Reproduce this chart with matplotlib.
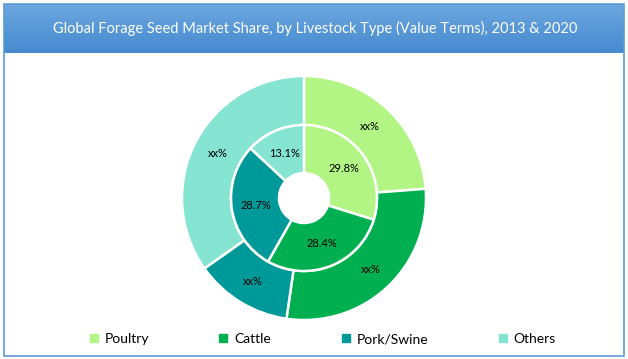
import matplotlib.pyplot as plt
import numpy as np
from matplotlib.patches import Rectangle
from matplotlib.lines import Line2D

plt.rcParams['font.family'] = ['Lato', 'DejaVu Sans']

# data
categories = ['Poultry', 'Cattle', 'Pork/Swine', 'Others']
share_2013 = [29.8, 28.4, 28.7, 13.1]          # inner ring
share_2020 = [23.8, 28.5, 12.9, 34.8]          # outer ring (values hidden as xx%)
inner_labels = ['29.8%', '28.4%', '28.7%', '13.1%']
outer_labels = ['xx%', 'xx%', 'xx%', 'xx%']
colors = ['#B2F584', '#00B050', '#009999', '#86E4D2']

W, H = 628, 359
fig = plt.figure(figsize=(W / 100, H / 100), dpi=100)
ax = fig.add_axes([0, 0, 1, 1])
ax.set_xlim(0, W)
ax.set_ylim(0, H)
ax.axis('off')

# title bar with vertical gradient
grad = np.linspace(0, 1, 64).reshape(-1, 1)
top = np.array([0x6C, 0xA7, 0xE0]) / 255
bot = np.array([0x46, 0x8A, 0xCF]) / 255
img = top + (bot - top) * grad[:, :, None]
ax.imshow(img, extent=[4, 624, H - 53, H - 4], aspect='auto', zorder=1)
ax.text(315, H - 28, 'Global Forage Seed Market Share, by Livestock Type (Value Terms), 2013 & 2020',
        color='white', fontsize=10.5, ha='center', va='center', zorder=2)

# outer border
ax.add_patch(Rectangle((4, 3), 620, H - 7, fill=False, edgecolor='#5B9BD5', linewidth=1.2, zorder=3))

cx, cy = 304, H - 198
r_out, r_mid, r_hole = 122, 73, 25

wedge_style = dict(edgecolor='white', linewidth=1.8)
outer, _ = ax.pie(share_2020, radius=r_out, center=(cx, cy), colors=colors, startangle=90,
                  counterclock=False, wedgeprops=dict(width=r_out - r_mid, **wedge_style))
inner, _ = ax.pie(share_2013, radius=r_mid, center=(cx, cy), colors=colors, startangle=90,
                  counterclock=False, wedgeprops=dict(width=r_mid - r_hole, **wedge_style))
ax.set_xlim(0, W)
ax.set_ylim(0, H)
ax.set_aspect('auto')


def put_labels(wedges, labels, r):
    for w, lab in zip(wedges, labels):
        ang = np.deg2rad((w.theta1 + w.theta2) / 2)
        ax.text(cx + r * np.cos(ang), cy + r * np.sin(ang), lab,
                ha='center', va='center', fontsize=8, color='black')


put_labels(outer, outer_labels, (r_out + r_mid) / 2)
put_labels(inner, inner_labels, (r_mid + r_hole) / 2)

handles = [Line2D([], [], marker='s', linestyle='none', markersize=5.5,
                  markerfacecolor=c, markeredgecolor=c) for c in colors]
ax.legend(handles, categories, ncol=4, loc='center', bbox_to_anchor=(322 / W, 20 / H),
          frameon=False, fontsize=10, handlelength=0.8, handletextpad=0.4,
          columnspacing=4.95)

plt.savefig('out.png', dpi=100)
plt.close()
